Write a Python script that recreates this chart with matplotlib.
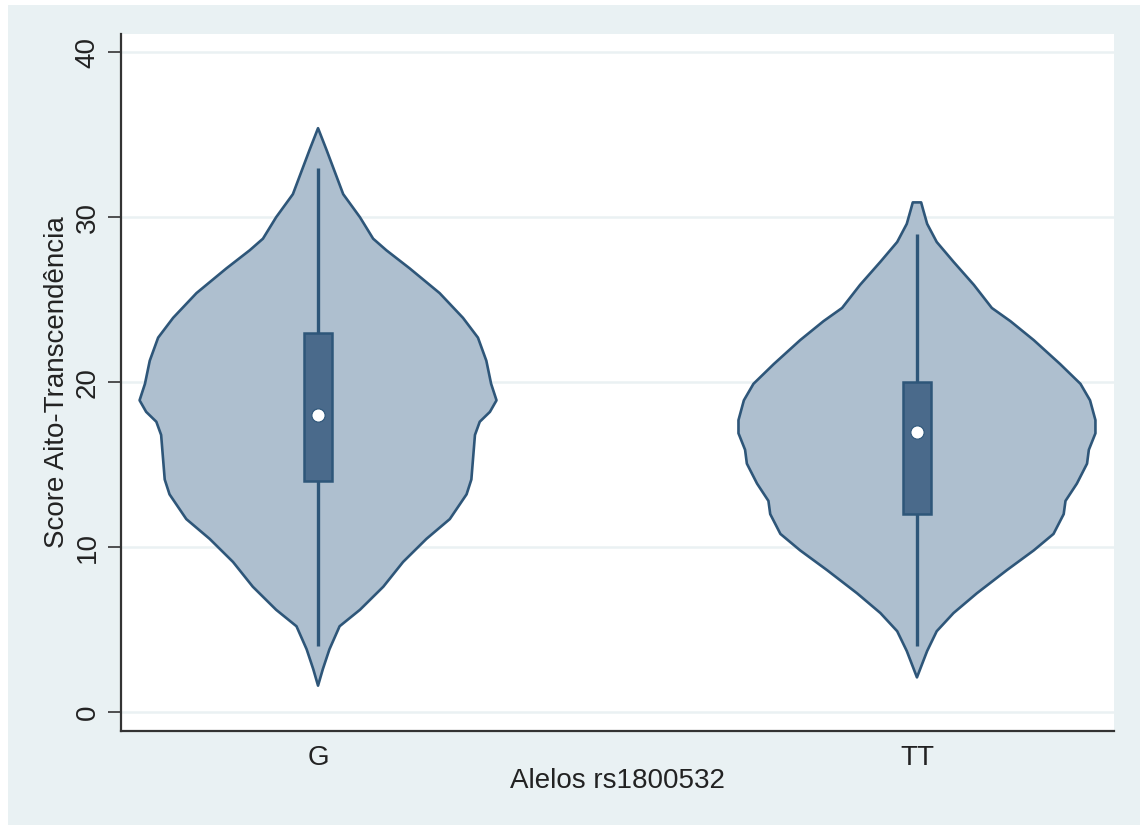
import numpy as np
import matplotlib
matplotlib.use("Agg")
import matplotlib.pyplot as plt
from matplotlib.patches import Rectangle

plt.rcParams["font.family"] = ["Liberation Sans", "DejaVu Sans"]

# Categories and their positions on the x axis
groups = ["G", "TT"]
positions = [1, 2]

# Density outline of each violin: score level and half-width (category units)
g_levels = [1.6, 2.6, 3.8, 5.2, 6.2, 7.6, 9.1, 10.5, 11.7, 13.2, 14.1, 16.8, 17.6,
            18.2, 18.9, 19.9, 21.3, 22.7, 23.9, 25.4, 26.9, 28.0, 28.7, 30.0, 31.4,
            34.1, 35.4]
g_halfw = [0.0, 0.008, 0.019, 0.036, 0.070, 0.109, 0.142, 0.181, 0.220, 0.248, 0.256,
           0.262, 0.270, 0.287, 0.298, 0.289, 0.281, 0.267, 0.242, 0.203, 0.153,
           0.114, 0.092, 0.070, 0.042, 0.014, 0.0]

tt_levels = [2.1, 3.7, 4.9, 6.0, 7.2, 8.6, 9.8, 10.8, 12.0, 12.8, 13.85, 15.06, 15.9,
             16.9, 17.7, 18.9, 19.9, 21.1, 22.55, 23.7, 24.5, 25.9, 27.3, 28.5, 29.6,
             30.5, 30.9]
tt_halfw = [0.0, 0.017, 0.033, 0.061, 0.100, 0.150, 0.195, 0.228, 0.245, 0.248, 0.267,
            0.284, 0.287, 0.298, 0.298, 0.289, 0.273, 0.239, 0.195, 0.156, 0.125,
            0.095, 0.061, 0.033, 0.017, 0.010, 0.007]

# Box-plot summaries: whisker ends, quartiles, medians
whisker_low = [4, 4]
whisker_high = [33, 29]
q1 = [14, 12]
q3 = [23, 20]
medians = [18, 17]

levels = [g_levels, tt_levels]
halfw = [g_halfw, tt_halfw]

BG = "#e9f1f3"
FILL = "#aebfcf"
EDGE = "#2e5679"
BOX = "#4a6a8b"
TEXT = "#222222"

fig = plt.figure(figsize=(11.4, 8.25), dpi=100, facecolor=BG)
# thin white margin along the left and top edges
fig.patches.append(Rectangle((0, 0), 8 / 1140, 1, transform=fig.transFigure,
                             facecolor="white", edgecolor="none", zorder=-1))
fig.patches.append(Rectangle((0, 1 - 5 / 825), 1, 5 / 825, transform=fig.transFigure,
                             facecolor="white", edgecolor="none", zorder=-1))

ax = fig.add_axes([121 / 1140, 1 - 731 / 825, 993 / 1140, 697 / 825])
ax.set_facecolor("white")

for pos, lv, hw in zip(positions, levels, halfw):
    lv = np.asarray(lv, dtype=float)
    hw = np.asarray(hw, dtype=float)
    xs = np.concatenate([pos + hw, (pos - hw)[::-1]])
    ys = np.concatenate([lv, lv[::-1]])
    ax.fill(xs, ys, facecolor=FILL, edgecolor=EDGE, linewidth=1.9,
            joinstyle="round", zorder=2)

ax.vlines(positions, whisker_low, whisker_high, color=EDGE, linewidth=2.4, zorder=3)
ax.bar(positions, np.subtract(q3, q1), bottom=q1, width=0.047, color=BOX,
       edgecolor=EDGE, linewidth=1.8, zorder=4)
ax.plot(positions, medians, linestyle="none", marker="o", markersize=9.5,
        markerfacecolor="white", markeredgecolor=EDGE, markeredgewidth=0.8, zorder=5)

ax.set_xlim(0.671, 2.329)
ax.set_ylim(-1.15, 41.11)
ax.set_xticks(positions)
ax.set_xticklabels(groups)
ax.set_yticks([0, 10, 20, 30, 40])

ax.set_axisbelow(True)
ax.grid(axis="y", color="#eaf1f3", linewidth=1.8)
ax.grid(axis="x", visible=False)

for side in ("top", "right"):
    ax.spines[side].set_visible(False)
for side in ("left", "bottom"):
    ax.spines[side].set_color("#333333")
    ax.spines[side].set_linewidth(1.6)

ax.tick_params(axis="y", length=9.5, width=1.2, color="#333333", pad=5,
               labelsize=20, labelcolor=TEXT, labelrotation=90)
for lab in ax.get_yticklabels():
    lab.set_verticalalignment("center")
ax.tick_params(axis="x", length=0, pad=10, labelsize=20, labelcolor=TEXT)

ax.set_ylabel("Score Aito-Transcendência", fontsize=20, color=TEXT, va="center")
ax.yaxis.set_label_coords(-0.0645, 0.5)
ax.set_xlabel("Alelos rs1800532", fontsize=20, color=TEXT, va="center")
ax.xaxis.set_label_coords(0.5, -0.0717)

fig.savefig("out.png", dpi=100, facecolor=BG)
